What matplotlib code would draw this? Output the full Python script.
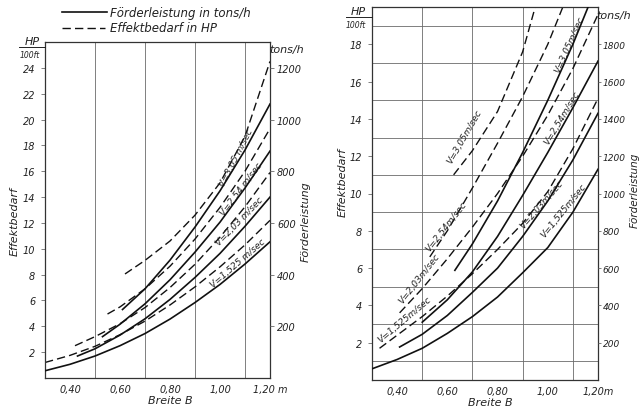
import matplotlib.pyplot as plt
from matplotlib.lines import Line2D
import numpy as np

# ---- left chart: Förderleistung (tons/h, solid) and Effektbedarf (HP/100ft, dashed)
L_S1525_B = [0.30, 0.40, 0.50, 0.60, 0.70, 0.80, 0.90, 1.00, 1.10, 1.20]
L_S1525_T = [28, 53, 85, 125, 172, 228, 292, 362, 441, 527]
L_S2030_B = [0.43, 0.50, 0.60, 0.70, 0.80, 0.90, 1.00, 1.10, 1.20]
L_S2030_T = [85, 113, 166, 229, 304, 389, 482, 587, 700]
L_S2540_B = [0.53, 0.60, 0.70, 0.80, 0.90, 1.00, 1.10, 1.20]
L_S2540_T = [160, 208, 287, 380, 487, 603, 735, 878]
L_S3050_B = [0.61, 0.70, 0.80, 0.90, 1.00, 1.10, 1.20]
L_S3050_T = [265, 345, 456, 584, 724, 882, 1060]

L_D1525_B = [0.30, 0.40, 0.50, 0.60, 0.70, 0.80, 0.90, 1.00, 1.10, 1.20]
L_D1525_H = [1.2, 1.75, 2.45, 3.35, 4.4, 5.65, 7.05, 8.6, 10.3, 12.2]
L_D2030_B = [0.42, 0.50, 0.60, 0.70, 0.80, 0.90, 1.00, 1.10, 1.20]
L_D2030_H = [2.5, 3.2, 4.2, 5.45, 7.0, 8.8, 10.9, 13.25, 15.9]
L_D2540_B = [0.55, 0.60, 0.70, 0.80, 0.90, 1.00, 1.10, 1.20]
L_D2540_H = [4.95, 5.5, 6.9, 8.65, 10.75, 13.2, 16.0, 19.3]
L_D3050_B = [0.62, 0.70, 0.80, 0.90, 1.00, 1.10, 1.20]
L_D3050_H = [8.05, 9.1, 10.6, 12.6, 15.1, 18.7, 24.5]

# ---- right chart
R_S1525_B = [0.30, 0.40, 0.50, 0.60, 0.70, 0.80, 0.90, 1.00, 1.10, 1.20]
R_S1525_T = [60, 110, 170, 250, 340, 445, 575, 710, 900, 1130]
R_S2030_B = [0.41, 0.50, 0.60, 0.70, 0.80, 0.90, 1.00, 1.10, 1.20]
R_S2030_T = [177, 245, 346, 470, 600, 770, 960, 1180, 1430]
R_S2540_B = [0.50, 0.60, 0.70, 0.80, 0.90, 1.00, 1.10, 1.20]
R_S2540_T = [310, 430, 580, 770, 990, 1220, 1460, 1710]
R_S3050_B = [0.63, 0.70, 0.80, 0.90, 1.00, 1.10, 1.20]
R_S3050_T = [588, 730, 960, 1220, 1500, 1800, 2130]

R_D1525_B = [0.33, 0.40, 0.50, 0.60, 0.70, 0.80, 0.90, 1.00, 1.10, 1.20]
R_D1525_H = [1.7, 2.4, 3.4, 4.5, 5.7, 7.0, 8.4, 10.1, 12.4, 15.1]
R_D2030_B = [0.41, 0.50, 0.60, 0.70, 0.80, 0.90, 1.00, 1.10, 1.20]
R_D2030_H = [3.6, 4.9, 6.5, 8.2, 10.0, 12.0, 14.2, 16.7, 19.6]
R_D2540_B = [0.53, 0.60, 0.70, 0.80, 0.90, 1.00, 1.06]
R_D2540_H = [6.6, 8.0, 10.3, 12.7, 15.2, 18.0, 20.0]
R_D3050_B = [0.625, 0.70, 0.80, 0.90, 0.95]
R_D3050_H = [11.0, 12.3, 14.4, 17.6, 20.0]

X_TICKS = [0.4, 0.6, 0.8, 1.0, 1.2]
L_X_LABELS = ['0,40', '0,60', '0,80', '1,00', '1,20 m']
R_X_LABELS = ['0,40', '0,60', '0,80', '1,00', '1,20m']

# label text, position (B, HP) and angle
L_LABELS = [('V=3,05 m/sec', 1.064, 17.1, 63),
            ('V=2,54 m/sec', 1.084, 14.65, 53),
            ('V=2,03 m/sec', 1.08, 12.2, 46),
            ('V=1,525 m/sec', 1.072, 8.9, 41)]
R_LABELS = [('V=1,525m/sec', 0.431, 3.28, 40),
            ('V=2,03m/sec', 0.487, 5.48, 52),
            ('V=2,54m/sec', 0.595, 8.28, 52),
            ('V=3,05m/sec', 0.67, 13.06, 60),
            ('V=1,525m/sec', 1.061, 9.13, 51),
            ('V=2,03m/sec', 0.977, 9.46, 49),
            ('V=2,54m/sec', 1.057, 14.1, 59),
            ('V=3,05m/sec', 1.085, 18.0, 66)]

W, H = 642, 410
FONT = dict(family='DejaVu Sans', style='italic', color='#222222')
GRID = '#6a6a6a'
DASH = (0, (6, 3))


def fx(px):
    return px / W


def fy(py):
    return 1 - py / H


def setup(ax, ymax, ystep, ylabels, xlabels):
    ax.set_xlim(0.3, 1.2)
    ax.set_ylim(0, ymax)
    ax.set_xticks(np.arange(0.4, 1.15, 0.1), minor=True)
    ax.set_yticks(np.arange(ystep, ymax, ystep), minor=True)
    ax.grid(True, which='minor', color=GRID, lw=0.6)
    ax.set_xticks(X_TICKS)
    ax.set_xticklabels(xlabels, **FONT, fontsize=7)
    ax.set_yticks(ylabels)
    ax.set_yticklabels([str(v) for v in ylabels], **FONT, fontsize=7)
    ax.tick_params(which='both', length=0, pad=4)
    ax.tick_params(axis='y', length=3, width=0.6, color=GRID)
    for s in ax.spines.values():
        s.set_color('#333333')
        s.set_linewidth(0.9)


fig = plt.figure(figsize=(W / 100, H / 100), dpi=100)

# ---------------- left
axl = fig.add_axes([fx(45), fy(379), fx(270) - fx(45), fy(43) - fy(379)])
setup(axl, 26, 2, list(range(2, 25, 2)), L_X_LABELS)
axl2 = axl.twinx()
axl2.set_ylim(0, 1300)
axl2.set_yticks(range(200, 1201, 200))
axl2.set_yticklabels([str(v) for v in range(200, 1201, 200)], **FONT, fontsize=7)
axl2.tick_params(length=3, width=0.6, color=GRID, pad=2)
axl2.set_xlim(0.3, 1.2)
for s in axl2.spines.values():
    s.set_visible(False)

for b, t in [(L_S1525_B, L_S1525_T), (L_S2030_B, L_S2030_T),
             (L_S2540_B, L_S2540_T), (L_S3050_B, L_S3050_T)]:
    axl2.plot(b, t, color='#111111', lw=1.2)
for b, h in [(L_D1525_B, L_D1525_H), (L_D2030_B, L_D2030_H),
             (L_D2540_B, L_D2540_H), (L_D3050_B, L_D3050_H)]:
    axl.plot(b, h, color='#111111', lw=1.0, linestyle=DASH)
for txt, b, h, rot in L_LABELS:
    axl.text(b, h, txt, rotation=rot, ha='center', va='center',
             rotation_mode='anchor', fontsize=6.5, **FONT)

# ---------------- right
axr = fig.add_axes([fx(372), fy(381), fx(598) - fx(372), fy(8) - fy(381)])
setup(axr, 20, 1, list(range(2, 19, 2)), R_X_LABELS)
axr2 = axr.twinx()
axr2.set_ylim(0, 2000)
axr2.set_yticks(range(200, 1801, 200))
axr2.set_yticklabels([str(v) for v in range(200, 1801, 200)], **FONT, fontsize=6.5)
axr2.tick_params(length=2, width=0.6, color=GRID, pad=1.5)
axr2.set_xlim(0.3, 1.2)
for s in axr2.spines.values():
    s.set_visible(False)

for b, t in [(R_S1525_B, R_S1525_T), (R_S2030_B, R_S2030_T),
             (R_S2540_B, R_S2540_T), (R_S3050_B, R_S3050_T)]:
    axr2.plot(b, t, color='#111111', lw=1.2)
for b, h in [(R_D1525_B, R_D1525_H), (R_D2030_B, R_D2030_H),
             (R_D2540_B, R_D2540_H), (R_D3050_B, R_D3050_H)]:
    axr.plot(b, h, color='#111111', lw=1.0, linestyle=DASH)
for txt, b, h, rot in R_LABELS:
    axr.text(b, h, txt, rotation=rot, ha='center', va='center',
             rotation_mode='anchor', fontsize=6.5, **FONT)

# ---------------- legend
fig.add_artist(Line2D([fx(62), fx(107)], [fy(13), fy(13)], color='#111111', lw=1.2))
fig.add_artist(Line2D([fx(62), fx(105)], [fy(29), fy(29)], color='#111111', lw=1.0,
                      linestyle=DASH))
fig.text(fx(110), fy(13), 'Förderleistung in tons/h', va='center', fontsize=8.5, **FONT)
fig.text(fx(110), fy(29), 'Effektbedarf in HP', va='center', fontsize=8.5, **FONT)

# ---------------- axis titles
for x0, y0, x1 in [(32, 42, 45), (358, 12, 372)]:
    fig.text(fx(x0), fy(y0), 'HP', ha='center', va='center', fontsize=8, **FONT)
    fig.add_artist(Line2D([fx(x1 - 26), fx(x1)], [fy(y0 + 6), fy(y0 + 6)],
                          color='#222222', lw=0.7))
    fig.text(fx(x0 - 2), fy(y0 + 13), '100ft', ha='center', va='center', fontsize=5.5, **FONT)
fig.text(fx(287), fy(50), 'tons/h', ha='center', va='center', fontsize=8, **FONT)
fig.text(fx(614), fy(16), 'tons/h', ha='center', va='center', fontsize=8, **FONT)

fig.text(fx(15), fy(222), 'Effektbedarf', rotation=90, ha='center', va='center', fontsize=8, **FONT)
fig.text(fx(306), fy(222), 'Förderleistung', rotation=90, ha='center', va='center', fontsize=8, **FONT)
fig.text(fx(343), fy(183), 'Effektbedarf', rotation=90, ha='center', va='center', fontsize=8, **FONT)
fig.text(fx(635), fy(190), 'Förderleistung', rotation=90, ha='center', va='center', fontsize=7.5, **FONT)
fig.text(fx(170), fy(401), 'Breite B', ha='center', va='center', fontsize=8, **FONT)
fig.text(fx(490), fy(403), 'Breite B', ha='center', va='center', fontsize=8, **FONT)

fig.savefig('out.png', dpi=100, facecolor='white')
